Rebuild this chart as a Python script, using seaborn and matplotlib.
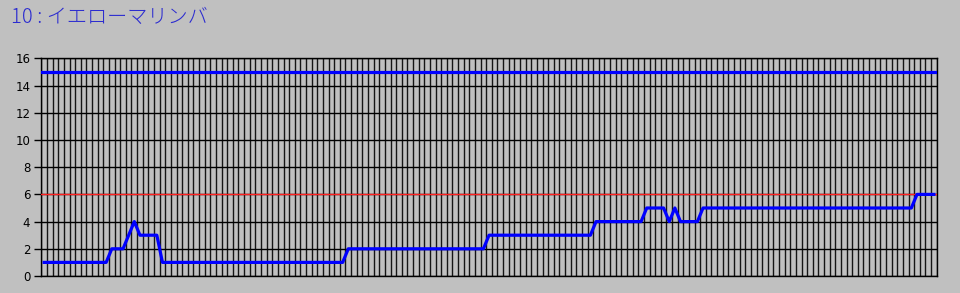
import numpy as np
import pandas as pd
import matplotlib
matplotlib.use("Agg")
import matplotlib.pyplot as plt
import seaborn as sns

# ---- data ----
title = "10 : イエローマリンバ"
values = [1, 1, 1, 1, 1, 1, 1, 1, 1, 1, 1, 1,
          2, 2, 2, 3, 4, 3, 3, 3, 3,
          1, 1, 1, 1, 1, 1, 1, 1, 1, 1, 1, 1, 1, 1, 1, 1, 1, 1, 1, 1, 1, 1, 1, 1,
          1, 1, 1, 1, 1, 1, 1, 1, 1,
          2, 2, 2, 2, 2, 2, 2, 2, 2, 2, 2, 2, 2, 2, 2, 2, 2, 2, 2, 2, 2, 2, 2, 2, 2,
          3, 3, 3, 3, 3, 3, 3, 3, 3, 3, 3, 3, 3, 3, 3, 3, 3, 3, 3,
          4, 4, 4, 4, 4, 4, 4, 4, 4,
          5, 5, 5, 5, 4, 5, 4, 4, 4, 4,
          5, 5, 5, 5, 5, 5, 5, 5, 5, 5, 5, 5, 5, 5, 5, 5, 5, 5, 5, 5, 5, 5, 5, 5, 5,
          5, 5, 5, 5, 5, 5, 5, 5, 5, 5, 5, 5, 5,
          6, 6, 6, 6]
upper_level = 15
reference_level = 6
y_ticks = [0, 2, 4, 6, 8, 10, 12, 14, 16]

n = len(values)
df = pd.DataFrame({"idx": np.arange(n) + 0.5, "value": values})

bg = "#C0C0C0"
fig = plt.figure(figsize=(9.6, 2.93), dpi=100, facecolor=bg)
ax = fig.add_axes([41.4 / 960, (293 - 276) / 293, (936.7 - 41.4) / 960, (276 - 58.4) / 293])
ax.set_facecolor(bg)

# grid
ax.set_xlim(0, n)
ax.set_ylim(0, 16)
ax.set_xticks(np.arange(0, n + 1))
ax.set_yticks(y_ticks)
ax.grid(True, axis="x", color="#151515", linewidth=1.0)
ax.grid(True, axis="y", color="#000000", linewidth=1.0)
ax.set_axisbelow(True)
ax.tick_params(axis="x", length=0, labelbottom=False)
ax.tick_params(axis="y", length=5, width=1, color="black", direction="out",
               labelsize=8.5, pad=3, labelcolor="black")
for s in ax.spines.values():
    s.set_color("black")
    s.set_linewidth(1.0)

ax.axhline(reference_level, color="#FF2020", linewidth=1.0, zorder=3)
ax.axhline(upper_level, color="#0000FF", linewidth=2.3, zorder=3)

sns.lineplot(data=df, x="idx", y="value", ax=ax, color="#0000FF",
             linewidth=2.3, zorder=4, legend=False)
ax.set_xlabel("")
ax.set_ylabel("")

fig.text(11 / 960, 1 - 18 / 293, title, color="#2B2BD0", fontsize=14.5,
         fontweight="light",
         family=["Noto Sans CJK JP", "DejaVu Sans"], va="center", ha="left")

fig.savefig("out.png", dpi=100, facecolor=bg)
